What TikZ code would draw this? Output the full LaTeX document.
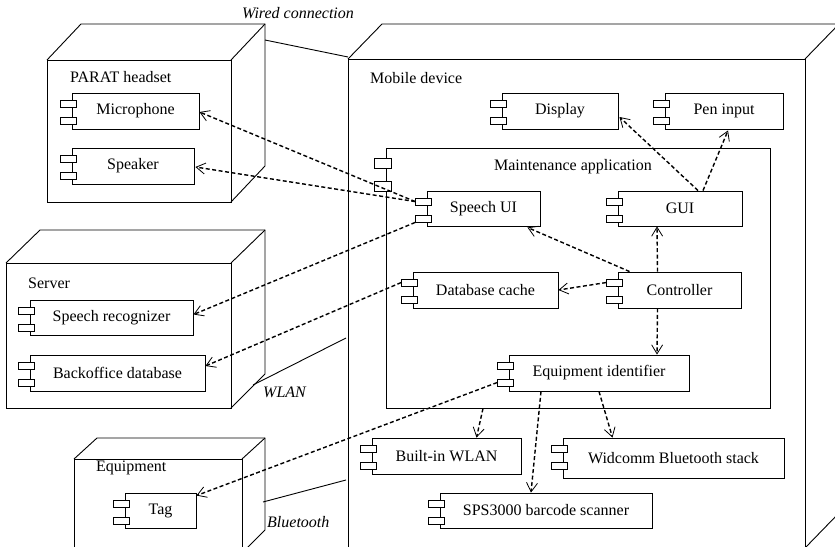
\documentclass[tikz,border=0pt]{standalone}
\usepackage{fontspec}
\setmainfont{Liberation Serif}
\usetikzlibrary{arrows.meta,calc}
\newcommand\umlcomp[7][]{%
  \node[comp,#1,minimum width={#5-#3},minimum height={#6-#4}] (#2) at ({(#3+#5)/2},{(#4+#6)/2}) {#7};
  \node[tabbox] (#2-a) at ($(#2.north west)+(-3,11)$) {};
  \node[tabbox] (#2-b) at ($(#2.north west)+(-3,28)$) {};
}
\begin{document}
\begin{tikzpicture}[x=1pt,y=-1pt,
  box/.style={line width=0.9pt,line join=miter},
  comp/.style={draw,line width=0.9pt,inner sep=0pt,font=\fontsize{16}{19}\selectfont},
  tabbox/.style={draw,fill=white,line width=0.8pt,minimum width=16pt,minimum height=7pt,inner sep=0pt},
  lbl/.style={font=\fontsize{16}{19}\selectfont,inner sep=0pt},
  ilbl/.style={font=\fontsize{16}{19}\selectfont\itshape,inner sep=0pt},
  dep/.style={line width=1.4pt,dash pattern=on 4pt off 2.5pt,-{Straight Barb[length=9pt,width=11pt,line width=0.8pt]}},
  link/.style={line width=0.9pt}
]
\useasboundingbox (0,0) rectangle (835,546);
\clip (0,0) rectangle (835,546);

% ---- 3D device nodes ----
% PARAT headset
\draw[box] (47,60) rectangle (231,202);
\draw[box] (47,60) -- (81,24) -- (265,24) -- (265,166) -- (231,202);
\draw[box] (231,60) -- (265,24);
% Server
\draw[box] (6,263) rectangle (231,408);
\draw[box] (6,263) -- (40,230) -- (265,230) -- (265,374) -- (231,408);
\draw[box] (231,263) -- (265,230);
% Equipment
\draw[box] (74,459) rectangle (242,600);
\draw[box] (74,459) -- (97,438) -- (265,438) -- (265,530) -- (242,553);
\draw[box] (242,459) -- (265,438);
% Mobile device
\draw[box] (348,59) rectangle (805,548);
\draw[box] (348,59) -- (382,24) -- (839,24) -- (839,513) -- (805,548);
\draw[box] (805,59) -- (839,24);

% ---- device labels ----
\node[lbl,anchor=west] (lhead) at (70,77) {PARAT headset};
\node[lbl,anchor=west] (lserver) at (28,283) {Server};
\node[lbl,anchor=west] (lequip) at (96,468) {Equipment};
\node[lbl,anchor=west] (lmobile) at (370,78) {Mobile device};

% ---- physical links ----
\coordinate (wiredA) at (265,40);
\coordinate (wiredB) at (348,57);
\draw[link] (wiredA) -- (wiredB);
\node[ilbl] (lwired) at (298,13) {Wired connection};
\coordinate (wlanA) at (253,385);
\coordinate (wlanB) at (346,338);
\draw[link] (wlanA) -- (wlanB);
\node[ilbl,anchor=west] (lwlan) at (263,392) {WLAN};
\coordinate (btA) at (263,502);
\coordinate (btB) at (346,480);
\draw[link] (btA) -- (btB);
\node[ilbl,anchor=west] (lbt) at (267,522) {Bluetooth};

% ---- maintenance application ----
\node[draw,line width=0.9pt,minimum width=384pt,minimum height=260pt,inner sep=0pt] (maint) at (578,278) {};
\node[tabbox,minimum width=17pt,minimum height=10pt] (maint-a) at ($(maint.north west)+(-2.5,16)$) {};
\node[tabbox,minimum width=17pt,minimum height=10pt] (maint-b) at ($(maint.north west)+(-2.5,39)$) {};
\node[lbl] (lmaint) at (573,167) {Maintenance application};

% ---- components ----
\umlcomp{mic}{72}{93}{199}{129}{Microphone}
\umlcomp{spk}{72}{148}{194}{184}{Speaker}
\umlcomp{srec}{30}{300}{193}{335}{Speech recognizer}
\umlcomp{bod}{30}{355}{205}{391}{Backoffice database}
\umlcomp{tag}{125}{493}{196}{528}{Tag}
\umlcomp{disp}{502}{93}{618}{129}{Display}
\umlcomp{pen}{665}{93}{783}{129}{Pen input}
\umlcomp{su}{427}{191}{540}{226}{Speech UI}
\umlcomp{gui}{618}{191}{742}{226}{GUI}
\umlcomp{dbc}{413}{272}{558}{308}{Database cache}
\umlcomp{ctrl}{618}{272}{741}{308}{Controller}
\umlcomp{eid}{509}{355}{689}{391}{Equipment identifier}
\umlcomp{wlan}{372}{438}{521}{474}{Built-in WLAN}
\umlcomp{wid}{563}{438}{784}{478}{Widcomm Bluetooth stack}
\umlcomp{sps}{440}{493}{652}{528}{SPS3000 barcode scanner}

% ---- dependencies ----
\draw[dep] (su-a.west) -- ($(mic.east)+(0,1)$);
\draw[dep] (su-a.west) -- ($(spk.east)+(1,1)$);
\draw[dep] (su-b.south west) -- ($(srec.east)+(0,-3)$);
\draw[dep] (dbc-a.west) -- ($(bod.east)+(0,-7)$);
\draw[dep] (eid-b.west) -- ($(tag.north east)+(0,3)$);
\draw[dep] ($(gui.north)+(18,0)$) -- ($(disp.east)+(1,6)$);
\draw[dep] ($(gui.north)+(23,0)$) -- ($(pen.south)+(4,1)$);
\draw[dep] ($(ctrl.north)+(-22,0)$) -- ($(gui.south)+(-23,0)$);
\draw[dep] ($(ctrl.north west)+(12,0)$) -- ($(su.south east)+(-13,1)$);
\draw[dep] (ctrl-a.west) -- (dbc.east);
\draw[dep] ($(ctrl.south)+(-22,0)$) -- ($(eid.north)+(58,0)$);
\draw[dep] ($(maint.south)+(-95,0)$) -- ($(wlan.north)+(30,0)$);
\draw[dep] ($(eid.south)+(-58,0)$) -- ($(sps.north)+(-15,0)$);
\draw[dep] (eid.south) -- ($(wid.north)+(-61,0)$);
\end{tikzpicture}
\end{document}
